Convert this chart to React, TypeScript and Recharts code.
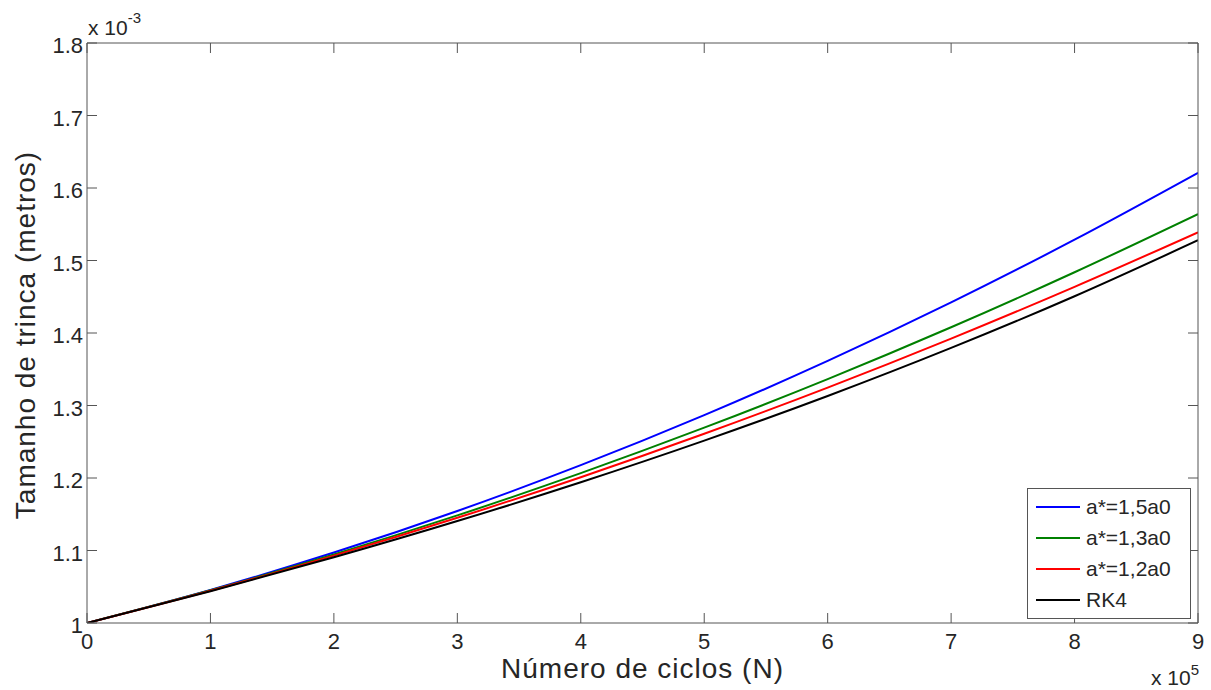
import React from 'react';
import { LineChart, Line, XAxis, YAxis, Legend } from 'recharts';

const FONT = '"Liberation Sans", Arial, Helvetica, sans-serif';
const TEXT = '#262626';
const AXIS = '#555555';
const TICK_LEN = 10;

// Number of cycles (x 10^5)
const cycles = [0, 1, 2, 3, 4, 5, 6, 7, 8, 9];
const xTicks = [0, 1, 2, 3, 4, 5, 6, 7, 8, 9];
// Crack size (x 10^-3 m)
const yTicks = [1, 1.1, 1.2, 1.3, 1.4, 1.5, 1.6, 1.7, 1.8];

const a15 = [1, 1.0457, 1.0972, 1.1545, 1.2177, 1.2867, 1.3615, 1.4422, 1.5287, 1.6209];
const a13 = [1, 1.0451, 1.0945, 1.1484, 1.2067, 1.2694, 1.3364, 1.4079, 1.4838, 1.564];
const a12 = [1, 1.0445, 1.0929, 1.1451, 1.2011, 1.261, 1.3247, 1.3923, 1.4637, 1.5389];
const rk4 = [1, 1.0438, 1.0906, 1.1406, 1.1941, 1.2515, 1.3131, 1.3794, 1.4507, 1.5279];

const seriesKeys = ['a15', 'a13', 'a12', 'rk4'];
const seriesNames = ['a*=1,5a0', 'a*=1,3a0', 'a*=1,2a0', 'RK4'];
const seriesColors = ['#0000ff', '#008000', '#ff0000', '#000000'];

const data = cycles.map((n, i) => ({ n, a15: a15[i], a13: a13[i], a12: a12[i], rk4: rk4[i] }));

const fmtY = (v: number) => String(Number(Number(v).toFixed(1)));

const BOTTOM_MARGIN = 10;
const LEFT_MARGIN = 4;

const BottomTick = (p: any) => {
  const axisY = p.y - BOTTOM_MARGIN;
  return (
    <g>
      <line x1={p.x} x2={p.x} y1={axisY} y2={axisY - TICK_LEN} stroke={AXIS} strokeWidth={1} />
      <text x={p.x} y={p.y} dy={15.5} textAnchor="middle" fontFamily={FONT} fontSize={22} fill={TEXT}>
        {String(p.payload.value)}
      </text>
    </g>
  );
};

const LeftTick = (p: any) => {
  const axisX = p.x + LEFT_MARGIN;
  return (
    <g>
      <line x1={axisX} x2={axisX + TICK_LEN} y1={p.y} y2={p.y} stroke={AXIS} strokeWidth={1} />
      <text x={p.x} y={p.y} dy={10} textAnchor="end" fontFamily={FONT} fontSize={22} fill={TEXT}>
        {fmtY(p.payload.value)}
      </text>
    </g>
  );
};

const TopTick = (p: any) => (
  <line x1={p.x} x2={p.x} y1={p.y} y2={p.y + TICK_LEN} stroke={AXIS} strokeWidth={1} />
);

const RightTick = (p: any) => (
  <line x1={p.x} x2={p.x - TICK_LEN} y1={p.y} y2={p.y} stroke={AXIS} strokeWidth={1} />
);

const LegendBox = () => (
  <div
    style={{
      width: 162,
      height: 127,
      border: `1px solid ${AXIS}`,
      background: '#fff',
      boxSizing: 'content-box',
      paddingTop: 2,
    }}
  >
    {seriesNames.map((name, i) => (
      <div key={name} style={{ display: 'flex', alignItems: 'center', height: 31, paddingLeft: 8 }}>
        <svg width={44} height={4} style={{ display: 'block' }}>
          <line x1={0} y1={2} x2={44} y2={2} stroke={seriesColors[i]} strokeWidth={2} />
        </svg>
        <span style={{ marginLeft: 6, fontFamily: FONT, fontSize: 21, color: TEXT, lineHeight: '31px' }}>{name}</span>
      </div>
    ))}
  </div>
);

export default function App() {
  return (
    <div style={{ position: 'absolute', left: 0, top: 0, width: 1211, height: 690, background: '#fff' }}>
      <LineChart width={1211} height={690} data={data} margin={{ top: 42, right: 12, left: 0, bottom: 0 }}>
        <XAxis
          dataKey="n"
          type="number"
          domain={[0, 9]}
          allowDataOverflow
          ticks={xTicks}
          interval={0}
          height={67}
          tickSize={0}
          tickMargin={BOTTOM_MARGIN}
          axisLine={{ stroke: AXIS, strokeWidth: 1 }}
          tickLine={false}
          tick={BottomTick}
          label={(props: any) => {
            const vb = props.viewBox;
            return (
              <g>
                <text
                  x={vb.x + vb.width / 2}
                  y={vb.y + 55}
                  textAnchor="middle"
                  fontFamily={FONT}
                  fontSize={28}
                  letterSpacing={1}
                  fill={TEXT}
                >
                  Número de ciclos (N)
                </text>
                <text x={vb.x + vb.width + 1} y={vb.y + 62} textAnchor="end" fontFamily={FONT} fontSize={21} fill={TEXT}>
                  x 10
                  <tspan dy={-10} fontSize={15}>5</tspan>
                </text>
              </g>
            );
          }}
        />
        <XAxis
          xAxisId="top"
          dataKey="n"
          orientation="top"
          type="number"
          domain={[0, 9]}
          allowDataOverflow
          ticks={xTicks}
          interval={0}
          height={1}
          tickSize={0}
          tickMargin={0}
          axisLine={{ stroke: AXIS, strokeWidth: 1 }}
          tickLine={false}
          tick={TopTick}
          label={(props: any) => {
            const vb = props.viewBox;
            return (
              <text x={vb.x + 1} y={vb.y - 7} fontFamily={FONT} fontSize={21} fill={TEXT}>
                x 10
                <tspan dy={-12} fontSize={15}>-3</tspan>
              </text>
            );
          }}
        />
        <YAxis
          type="number"
          domain={[1, 1.8]}
          allowDataOverflow
          ticks={yTicks}
          interval={0}
          width={87}
          tickSize={0}
          tickMargin={LEFT_MARGIN}
          axisLine={{ stroke: AXIS, strokeWidth: 1 }}
          tickLine={false}
          tick={LeftTick}
          label={(props: any) => {
            const vb = props.viewBox;
            const cx = 35;
            const cy = vb.y + vb.height / 2 + 2;
            return (
              <text
                x={cx}
                y={cy}
                textAnchor="middle"
                transform={`rotate(-90, ${cx}, ${cy})`}
                fontFamily={FONT}
                fontSize={28}
                letterSpacing={1}
                fill={TEXT}
              >
                Tamanho de trinca (metros)
              </text>
            );
          }}
        />
        <YAxis
          yAxisId="right"
          orientation="right"
          type="number"
          domain={[1, 1.8]}
          allowDataOverflow
          ticks={yTicks}
          interval={0}
          width={1}
          tickSize={0}
          tickMargin={0}
          axisLine={{ stroke: AXIS, strokeWidth: 1 }}
          tickLine={false}
          tick={RightTick}
        />
        {seriesKeys.map((k, i) => (
          <Line
            key={k}
            dataKey={k}
            name={seriesNames[i]}
            type="monotone"
            stroke={seriesColors[i]}
            strokeWidth={2}
            dot={false}
            activeDot={false}
            isAnimationActive={false}
          />
        ))}
        <Legend
          layout="vertical"
          align="center"
          verticalAlign="middle"
          content={() => <LegendBox />}
          wrapperStyle={{ position: 'absolute', left: 1027, top: 488, width: 164, height: 130 }}
        />
      </LineChart>
    </div>
  );
}
